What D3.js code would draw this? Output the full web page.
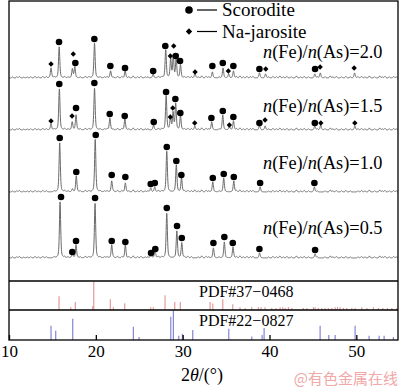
<!DOCTYPE html>
<html><head><meta charset="utf-8">
<script src="https://cdn.jsdelivr.net/npm/d3@7"></script>
<style>body{margin:0;background:#fff}svg{display:block}</style>
</head><body>
<svg id="c" width="400" height="387"></svg>
<script>
// ---------- data ----------
const samples = ["2.0", "1.5", "1.0", "0.5"];
const offsets = [203, 151, 89, 23];           // stacking offset of each pattern (a.u.)
// [2θ, intensity]
const peaks20 = [[14.84,10],[15.78,31],[17.3,9],[17.58,11],[19.85,35],[21.7,7],[23.38,7],[26.6,4],[28.05,28],[28.62,19],[28.92,21],[29.25,19],[29.75,13],[31.42,5],[33.42,6],[34.65,10],[35.3,4],[35.85,7],[38.85,5],[39.55,4],[45.22,4],[45.85,5],[49.8,5]];
const peaks15 = [[14.84,6],[15.8,41],[17.28,8],[17.72,15],[19.85,42],[21.62,12],[23.35,11],[26.65,5],[28.1,34],[28.6,13],[28.9,17],[29.2,26],[29.75,14],[31.4,4],[33.35,8],[34.62,15],[35.38,4],[35.85,9],[38.85,5],[39.5,4],[45.22,4],[45.9,5],[49.83,4]];
const peaks10 = [[15.84,49],[17.3,3],[17.75,16],[19.93,53],[21.83,11],[23.4,9],[26.32,4],[26.78,5],[28.17,41],[29.27,27],[29.87,14],[31.4,2],[33.47,10],[34.73,14],[35.89,11],[38.92,5],[45.17,5]];
const peaks05 = [[15.88,56],[17.3,5],[17.72,13],[19.91,55],[21.83,13],[23.4,13],[26.36,4],[26.82,8],[28.17,45],[29.33,27],[29.9,15],[33.54,10],[34.8,16],[35.8,11],[38.86,5],[45.25,4]];
// small background bumps seen along every trace
const minorPeaks = [[10.4,1],[10.9,1.2],[11.2,1.5],[11.7,0.8],[12.1,1],[12.5,1.2],[13.0,1.5],[13.4,1],[13.9,1.5],[14.3,1.2],[15.2,1],[16.4,1.2],[16.8,1],[18.2,1],[18.8,1.5],[19.2,1.2],[20.5,1],[21.0,1],[21.3,1.2],[22.0,0.8],[22.5,1.5],[23.0,1.2],[23.8,1],[24.3,2],[24.8,1.2],[25.2,1.5],[25.7,1],[26.0,1],[27.2,1.5],[27.6,1.2],[30.2,1],[30.6,1.5],[31.0,1.2],[31.8,1],[32.2,2],[32.7,1.5],[33.0,1],[34.2,1],[36.2,1.2],[36.6,2],[37.0,1],[37.4,1.5],[37.8,1.2],[38.1,1.5],[39.9,1],[40.4,1.5],[40.8,1.2],[41.2,2],[41.6,1],[42.0,1.5],[42.5,1.2],[43.1,2],[43.6,1],[44.0,1.5],[44.5,1.2],[45.5,1],[46.4,1.2],[47.0,2],[47.3,1],[47.7,1.5],[48.3,1.2],[48.8,1.5],[49.3,1],[50.2,1.2],[50.6,1.5],[51.0,1],[51.5,2],[52.1,1.2],[52.7,2],[53.0,1],[53.3,1.5],[53.8,1.2],[54.3,1.5],[54.6,1]];
// markers: [2θ, level above baseline, type] c = Scorodite, d = Na-jarosite
const marks20 = [[14.84,14,"d"],[15.76,36,"c"],[17.4,24,"d"],[17.64,15,"c"],[19.83,39,"c"],[21.67,12,"c"],[23.36,10,"c"],[26.6,7,"c"],[28.0,32,"c"],[28.97,32,"d"],[28.58,22,"d"],[29.2,22,"c"],[29.7,17,"c"],[31.43,6,"d"],[33.42,12,"c"],[34.62,15,"c"],[35.26,7,"d"],[35.84,12,"c"],[38.84,9,"c"],[39.57,9,"d"],[45.25,9,"c"],[45.83,11,"d"],[49.75,10,"d"]];
const marks15 = [[14.84,9,"d"],[15.79,46,"c"],[17.26,14,"d"],[17.72,22,"c"],[19.83,47,"c"],[21.6,16,"c"],[23.33,14,"c"],[26.67,8,"c"],[28.09,38,"c"],[28.58,13,"d"],[28.86,22,"d"],[29.16,31,"c"],[29.73,17,"c"],[31.39,7,"d"],[33.31,12,"c"],[34.62,19,"c"],[35.38,5,"d"],[35.84,13,"c"],[38.84,7,"c"],[39.49,10,"d"],[45.22,7,"c"],[45.91,7,"d"],[49.83,7,"d"]];
const marks10 = [[15.84,54,"c"],[17.75,20,"c"],[19.99,57,"c"],[21.83,17,"c"],[23.4,15,"c"],[26.32,8,"c"],[26.79,9,"c"],[28.17,45,"c"],[29.27,31,"c"],[29.85,17,"c"],[33.47,14,"c"],[34.73,18,"c"],[35.89,15,"c"],[38.92,9,"c"],[45.17,9,"c"]];
const marks05 = [[15.99,61,"c"],[17.29,6,"c"],[17.72,17,"c"],[19.91,60,"c"],[21.83,17,"c"],[23.4,16,"c"],[26.36,5,"c"],[26.85,9,"c"],[28.17,50,"c"],[29.35,32,"c"],[29.9,20,"c"],[33.54,15,"c"],[34.8,21,"c"],[35.77,15,"c"],[38.84,9,"c"],[45.25,8,"c"]];
// standard cards [2θ, relative intensity]
const pdf37 = [[15.76,48],[17.11,10],[17.64,28],[19.64,14],[19.76,100],[21.67,38],[22.02,10],[23.33,24],[26.32,10],[26.62,10],[27.97,52],[29.09,28],[29.73,28],[33.16,28],[33.47,23],[34.62,38],[35.77,20],[36.6,10],[37.2,7],[37.96,10],[38.72,10],[39.03,10],[39.49,10],[40.26,7],[40.76,7],[41.22,10],[41.53,10],[41.8,7],[42.18,10],[42.57,7],[43.9,7],[44.3,7],[45.06,10],[45.25,10],[45.63,7],[46.02,7],[46.4,7],[46.79,7],[47.18,7],[47.56,10],[47.83,10],[48.13,10],[48.52,7],[48.9,7],[49.48,7],[49.86,7],[50.63,10],[51.21,7],[51.97,10],[52.55,7],[53.05,7],[53.58,7],[54.09,7],[54.67,7]];
const pdf22 = [[14.84,48],[15.38,31],[17.34,72],[24.32,45],[24.98,10],[28.63,79],[28.93,100],[29.55,14],[29.97,21],[31.16,34],[35.31,38],[37.96,12],[39.15,17],[39.38,41],[45.83,48],[46.83,17],[47.56,17],[49.86,48],[51.47,14],[52.63,14],[53.2,14],[54.27,10]];
const xTicks = [10, 20, 30, 40, 50];
const legendItems = [["c", "Scorodite"], ["d", "Na-jarosite"]];
const cards = ["PDF#37\u22120468", "PDF#22\u22120827"];

const peakSets = [peaks20, peaks15, peaks10, peaks05];
const markSets = [marks20, marks15, marks10, marks05];

// ---------- drawing ----------
const svg = d3.select("#c");
const serif = "'Liberation Serif','Times New Roman',serif";
const L = 9, R = 398, T = 1, B1 = 281, B2 = 310, B3 = 340;

const x = d3.scaleLinear().domain([10, 54.8]).range([L, R]);
const yMain = d3.scaleLinear().domain([0, 280]).range([B1, T]);
const y37 = d3.scaleLinear().domain([0, 100]).range([B2, B1 + 0.5]);
const y22 = d3.scaleLinear().domain([0, 100]).range([B3, B2 + 0.5]);

const hw = 0.085, eta = 0.5;
function profile(t, pk) {
  let s = 0;
  for (const [c, h] of pk) {
    const u = (t - c) / hw;
    s += h * (eta / (1 + u * u) + (1 - eta) * Math.exp(-0.6931 * u * u));
  }
  return s;
}
const grid = d3.range(10, 54.8, 0.02);
const line = d3.line().x(d => x(d[0])).y(d => d[1]);

peakSets.forEach((pk, i) => {
  const all = pk.concat(minorPeaks);
  const pts = grid.map(t => [t, yMain(offsets[i] + profile(t, all))]);
  svg.append("path").attr("d", line(pts))
    .attr("fill", "none").attr("stroke", "#6a6a6a").attr("stroke-width", 1);
});

function marker(g, type, cx, cy, big) {
  if (type === "c") {
    g.append("circle").attr("cx", cx).attr("cy", cy).attr("r", big ? 3.8 : 3.3).attr("fill", "#000");
  } else {
    const r = big ? 3.2 : 2.7;
    g.append("path").attr("d", `M${cx},${cy - r}L${cx + r},${cy}L${cx},${cy + r}L${cx - r},${cy}Z`).attr("fill", "#000");
  }
}
const gm = svg.append("g");
markSets.forEach((ms, i) => {
  ms.forEach(([t, lv, ty]) => marker(gm, ty, x(t), yMain(offsets[i] + lv), false));
});

// sample labels
const labelY = [57.8, 112, 169, 234];
samples.forEach((s, i) => {
  const t = svg.append("text").attr("x", 263).attr("y", labelY[i])
    .attr("font-family", serif).attr("font-size", 18.3).attr("fill", "#000");
  t.append("tspan").attr("font-style", "italic").text("n");
  t.append("tspan").text("(Fe)/");
  t.append("tspan").attr("font-style", "italic").text("n");
  t.append("tspan").text("(As)=" + s);
});

// legend
legendItems.forEach(([ty, name], i) => {
  const cy = 10 + i * 21.5;
  marker(svg, ty, 189, cy, true);
  svg.append("line").attr("x1", 197).attr("x2", 217).attr("y1", cy).attr("y2", cy)
    .attr("stroke", "#000").attr("stroke-width", 1.2);
  svg.append("text").attr("x", 222).attr("y", cy + 6).attr("font-family", serif)
    .attr("font-size", 19).attr("fill", "#000").text(name);
});

// reference cards
svg.append("g").selectAll("line").data(pdf37).join("line")
  .attr("x1", d => x(d[0])).attr("x2", d => x(d[0]))
  .attr("y1", y37(0)).attr("y2", d => y37(d[1]))
  .attr("stroke", "#e39a9a").attr("stroke-width", 1.2);
svg.append("g").selectAll("line").data(pdf22).join("line")
  .attr("x1", d => x(d[0])).attr("x2", d => x(d[0]))
  .attr("y1", y22(0)).attr("y2", d => y22(d[1]))
  .attr("stroke", "#8484d6").attr("stroke-width", 1.2);
[[cards[0], 297], [cards[1], 326]].forEach(([txt, yy]) => {
  svg.append("text").attr("x", 199).attr("y", yy).attr("font-family", serif)
    .attr("font-size", 16).attr("fill", "#000").text(txt);
});

// frame
svg.append("rect").attr("x", L).attr("y", T).attr("width", R - L).attr("height", B3 - T)
  .attr("fill", "none").attr("stroke", "#000").attr("stroke-width", 1.3);
[B1, B2].forEach(yy => svg.append("line").attr("x1", L).attr("x2", R).attr("y1", yy).attr("y2", yy)
  .attr("stroke", "#000").attr("stroke-width", 1.3));

// x axis
const ax = svg.append("g").attr("transform", `translate(0,${B3})`)
  .call(d3.axisBottom(x).tickValues(xTicks).tickSize(-5).tickPadding(5).tickFormat(d3.format("d")));
ax.select(".domain").remove();
ax.selectAll("line").attr("stroke", "#000").attr("stroke-width", 1.3);
ax.selectAll("text").attr("font-family", serif).attr("font-size", 17).attr("fill", "#000");

const xt = svg.append("text").attr("x", 202).attr("y", 381).attr("text-anchor", "middle")
  .attr("font-family", serif).attr("font-size", 18).attr("fill", "#000");
xt.append("tspan").text("2");
xt.append("tspan").attr("font-style", "italic").text("θ");
xt.append("tspan").text("/(°)");

// watermark
svg.append("text").attr("x", 398).attr("y", 384).attr("text-anchor", "end")
  .attr("font-family", "'Noto Sans CJK SC',sans-serif").attr("font-size", 15)
  .attr("fill", "#f0a8a8").text("@有色金属在线");
</script>
</body></html>
